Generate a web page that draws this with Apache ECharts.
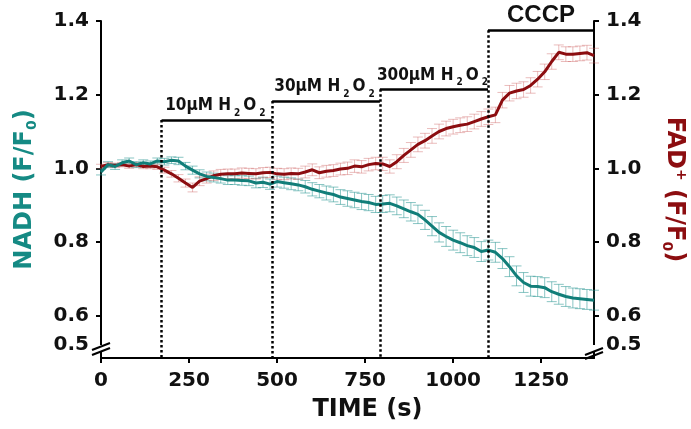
<!DOCTYPE html>
<html>
<head>
<meta charset="utf-8">
<script src="https://cdn.jsdelivr.net/npm/echarts@6/dist/echarts.min.js"></script>
<style>
  html, body { margin: 0; padding: 0; background: #fff; }
  #main { width: 691px; height: 429px; }
</style>
</head>
<body>
<div id="main"></div>
<script>
// time points (s)
var timeS = [0, 20, 40, 60, 80, 100, 120, 140, 160, 180, 200, 220, 240, 260, 280, 300, 320, 340, 360, 380,
  400, 420, 440, 460, 480, 500, 520, 540, 560, 580, 600, 620, 640, 660, 680, 700, 720, 740, 760, 780,
  800, 820, 840, 860, 880, 900, 920, 940, 960, 980, 1000, 1020, 1040, 1060, 1080, 1100, 1120, 1140, 1160, 1180,
  1200, 1220, 1240, 1260, 1280, 1300, 1320, 1340, 1360, 1380, 1400];

// NADH F/F0 mean and SEM
var nadh = [0.99, 1.01, 1.005, 1.015, 1.02, 1.01, 1.015, 1.012, 1.02, 1.018, 1.022, 1.02, 1.006, 0.995, 0.985, 0.978, 0.975, 0.972, 0.968, 0.968,
  0.967, 0.966, 0.96, 0.962, 0.957, 0.964, 0.961, 0.958, 0.955, 0.95, 0.943, 0.938, 0.933, 0.929, 0.922, 0.918, 0.914, 0.91, 0.907, 0.902,
  0.903, 0.905, 0.898, 0.89, 0.882, 0.875, 0.86, 0.843, 0.826, 0.815, 0.805, 0.798, 0.79, 0.785, 0.774, 0.778, 0.772, 0.755, 0.733, 0.708,
  0.69, 0.68, 0.679, 0.676, 0.665, 0.658, 0.652, 0.648, 0.646, 0.644, 0.642];
var nadhSem = [0.008, 0.008, 0.008, 0.008, 0.008, 0.008, 0.008, 0.008, 0.008, 0.009, 0.009, 0.01, 0.01, 0.011, 0.011, 0.012, 0.012, 0.012, 0.012, 0.012,
  0.013, 0.013, 0.013, 0.014, 0.014, 0.015, 0.015, 0.016, 0.016, 0.017, 0.018, 0.018, 0.019, 0.02, 0.02, 0.021, 0.021, 0.022, 0.022, 0.022,
  0.023, 0.023, 0.024, 0.024, 0.025, 0.025, 0.026, 0.026, 0.026, 0.027, 0.027, 0.027, 0.027, 0.027, 0.027, 0.027, 0.027, 0.027, 0.027, 0.027,
  0.027, 0.027, 0.027, 0.027, 0.027, 0.027, 0.027, 0.027, 0.027, 0.027, 0.027];

// FAD+ F/F0 mean and SEM
var fad = [1.005, 1.01, 1.008, 1.01, 1.006, 1.01, 1.005, 1.006, 1.004, 0.995, 0.985, 0.973, 0.96, 0.948, 0.965, 0.972, 0.98, 0.984, 0.985, 0.985,
  0.987, 0.986, 0.985, 0.988, 0.989, 0.985, 0.984, 0.986, 0.985, 0.99, 0.996, 0.988, 0.992, 0.994, 0.998, 1.0, 1.006, 1.004, 1.01, 1.013,
  1.012, 1.005, 1.018, 1.035, 1.05, 1.065, 1.075, 1.088, 1.1, 1.108, 1.113, 1.117, 1.12, 1.127, 1.134, 1.14, 1.145, 1.185, 1.204, 1.21,
  1.214, 1.225, 1.242, 1.262, 1.29, 1.315, 1.31, 1.31, 1.312, 1.314, 1.306];
var fadSem = [0.006, 0.006, 0.006, 0.006, 0.006, 0.006, 0.006, 0.007, 0.007, 0.008, 0.009, 0.01, 0.011, 0.012, 0.012, 0.012, 0.013, 0.013, 0.013, 0.013,
  0.014, 0.014, 0.014, 0.014, 0.014, 0.015, 0.015, 0.015, 0.015, 0.016, 0.016, 0.016, 0.016, 0.016, 0.016, 0.017, 0.017, 0.017, 0.017, 0.017,
  0.018, 0.018, 0.019, 0.019, 0.02, 0.02, 0.02, 0.02, 0.02, 0.02, 0.02, 0.02, 0.02, 0.02, 0.02, 0.021, 0.021, 0.021, 0.021, 0.021,
  0.021, 0.021, 0.021, 0.021, 0.021, 0.02, 0.02, 0.02, 0.02, 0.02, 0.02];

var xTicks = [0, 250, 500, 750, 1000, 1250];
var yTicks = [0.6, 0.8, 1.0, 1.2, 1.4];
var yBreakLabel = 0.52;   // where "0.5" sits, just under the axis break
var yMin = 0.485, yMax = 1.4;

// additions
var addTimes = [172, 486, 792, 1099];
var addLevels = [1.131, 1.183, 1.215, 1.375];
var addLabels = ['{m|10μM H}{s|2}{m|O}{s|2}', '{m|30μM H}{s|2}{m|O}{s|2}', '{m|300μM H}{s|2}{m|O}{s|2}', '{c|CCCP}'];

var TEAL = '#117e79', TEAL_ERR = 'rgba(40,150,145,0.55)';
var RED = '#8c0d10', RED_ERR = 'rgba(200,80,80,0.38)';
var AXIS_FONT = 'DejaVu Sans';

var myChart = echarts.init(document.getElementById('main'));

function errorBars(color) {
  return function (params, api) {
    var x = api.value(0);
    var a = api.coord([x, api.value(1)]);
    var b = api.coord([x, api.value(2)]);
    var w = 5;
    var st = { stroke: color, lineWidth: 1 };
    return {
      type: 'group',
      children: [
        { type: 'line', shape: { x1: a[0], y1: a[1], x2: b[0], y2: b[1] }, style: st },
        { type: 'line', shape: { x1: a[0] - w, y1: a[1], x2: a[0] + w, y2: a[1] }, style: st },
        { type: 'line', shape: { x1: b[0] - w, y1: b[1], x2: b[0] + w, y2: b[1] }, style: st }
      ]
    };
  };
}

var markData = [];
addTimes.forEach(function (t, i) {
  var end = i < addTimes.length - 1 ? addTimes[i + 1] : 1400;
  markData.push([
    {
      coord: [t, addLevels[i]],
      lineStyle: { type: 'solid', width: 2.5, color: '#000' },
      label: { show: true, position: 'insideMiddleTop', distance: i === 3 ? 3 : 2, formatter: addLabels[i] }
    },
    { coord: [end, addLevels[i]] }
  ]);
  markData.push([
    { coord: [t, addLevels[i]], lineStyle: { type: 'dotted', width: 2.5, color: '#000' }, label: { show: false } },
    { coord: [t, yMin] }
  ]);
});

var labelStyle = { color: '#111', fontFamily: AXIS_FONT, fontWeight: 'bold', fontSize: 20 };

function yAxisCfg(pos, name, color, gap, rot) {
  return {
    type: 'value', position: pos, min: yMin, max: yMax,
    name: name, nameLocation: 'middle', nameGap: gap, nameRotate: rot,
    nameTextStyle: {
      color: color, fontFamily: AXIS_FONT, fontWeight: 'bold', fontSize: 24,
      rich: {
        b: { color: color, fontFamily: AXIS_FONT, fontWeight: 'bold', fontSize: 24 },
        sub: { color: color, fontFamily: AXIS_FONT, fontWeight: 'bold', fontSize: 14, padding: [14, 0, 0, 0] },
        sup: { color: color, fontFamily: AXIS_FONT, fontWeight: 'bold', fontSize: 14, padding: [0, 0, 14, 0] }
      }
    },
    axisLine: { show: true, lineStyle: { color: '#000', width: 2 } },
    axisTick: { show: true, length: 5, lineStyle: { width: 2, color: '#000' }, customValues: yTicks },
    axisLabel: Object.assign({ margin: 12, customValues: yTicks.concat([yBreakLabel]),
      formatter: function (v) { return v < 0.55 ? '0.5' : v.toFixed(1); } }, labelStyle),
    splitLine: { show: false }
  };
}

myChart.setOption({
  animation: false,
  grid: { left: 101, right: 97, top: 21, bottom: 71, containLabel: false, outerBoundsMode: 'none' },
  xAxis: {
    type: 'value', min: 0, max: 1400,
    name: 'TIME (s)', nameLocation: 'middle', nameGap: 40,
    nameTextStyle: { color: '#111', fontFamily: AXIS_FONT, fontWeight: 'bold', fontSize: 24, padding: [0, 0, 0, 40] },
    axisLine: { lineStyle: { color: '#000', width: 2 } },
    axisTick: { length: 5, lineStyle: { width: 2, color: '#000' }, customValues: xTicks },
    axisLabel: Object.assign({ margin: 13, customValues: xTicks,
      formatter: function (v) { return String(v); } }, labelStyle),
    splitLine: { show: false }
  },
  yAxis: [
    yAxisCfg('left', '{b|NADH (F/F}{sub|0}{b|)}', '#158a84', 62, 90),
    yAxisCfg('right', '{b|FAD}{sup|+}{b| (F/F}{sub|0}{b|)}', '#8c0d10', 66, -90)
  ],
  series: [
    {
      type: 'custom', name: 'NADH SEM', yAxisIndex: 0, silent: true,
      renderItem: errorBars(TEAL_ERR), encode: { x: 0, y: [1, 2] },
      data: timeS.map(function (t, i) { return [t, nadh[i] - nadhSem[i], nadh[i] + nadhSem[i]]; }),
      z: 1
    },
    {
      type: 'custom', name: 'FAD SEM', yAxisIndex: 1, silent: true,
      renderItem: errorBars(RED_ERR), encode: { x: 0, y: [1, 2] },
      data: timeS.map(function (t, i) { return [t, fad[i] - fadSem[i], fad[i] + fadSem[i]]; }),
      z: 1
    },
    {
      type: 'line', name: 'FAD+', yAxisIndex: 1, showSymbol: false, symbol: 'none',
      data: timeS.map(function (t, i) { return [t, fad[i]]; }),
      lineStyle: { color: RED, width: 3 }, z: 3
    },
    {
      type: 'line', name: 'NADH', yAxisIndex: 0, showSymbol: false, symbol: 'none',
      data: timeS.map(function (t, i) { return [t, nadh[i]]; }),
      lineStyle: { color: TEAL, width: 3 }, z: 4,
      markLine: {
        silent: true, symbol: 'none', animation: false,
        label: {
          color: '#111',
          rich: {
            m: { fontFamily: "'Liberation Sans Narrow', 'DejaVu Sans Condensed', sans-serif", fontWeight: 'bold', fontSize: 17, color: '#111' },
            s: { fontFamily: "'Liberation Sans Narrow', 'DejaVu Sans Condensed', sans-serif", fontWeight: 'bold', fontSize: 10, color: '#111', padding: [14, 3, 0, 3] },
            c: { fontFamily: "'Liberation Sans', sans-serif", fontWeight: 'bold', fontSize: 24, color: '#111' }
          }
        },
        data: markData
      }
    }
  ],
  graphic: [
    // axis breaks
    { type: 'rect', shape: { x: 97, y: 345, width: 8, height: 6 }, style: { fill: '#fff' }, z: 100 },
    { type: 'line', shape: { x1: 92, y1: 350, x2: 110, y2: 343 }, style: { stroke: '#000', lineWidth: 2 }, z: 101 },
    { type: 'line', shape: { x1: 92, y1: 355, x2: 110, y2: 348 }, style: { stroke: '#000', lineWidth: 2 }, z: 101 },
    { type: 'rect', shape: { x: 590, y: 345, width: 8, height: 6 }, style: { fill: '#fff' }, z: 100 },
    { type: 'line', shape: { x1: 585, y1: 355, x2: 603, y2: 348 }, style: { stroke: '#000', lineWidth: 2 }, z: 101 },
    { type: 'line', shape: { x1: 585, y1: 359, x2: 603, y2: 352 }, style: { stroke: '#000', lineWidth: 2 }, z: 101 }
  ]
});
</script>
</body>
</html>
